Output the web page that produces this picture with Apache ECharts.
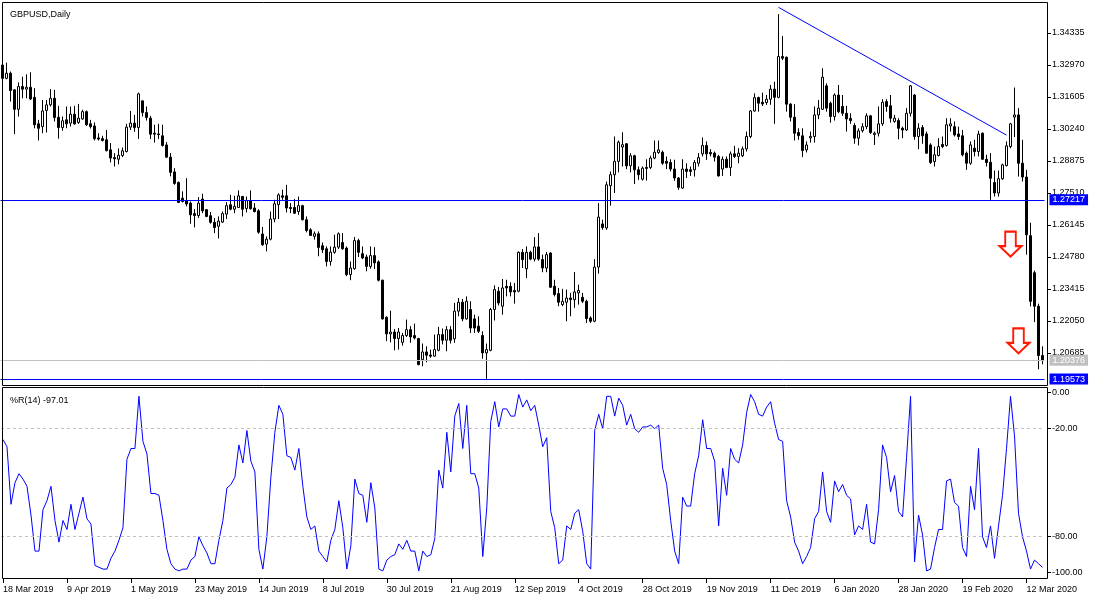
<!DOCTYPE html>
<html><head><meta charset="utf-8">
<script src="https://cdn.jsdelivr.net/npm/echarts@6/dist/echarts.min.js"></script>
<style>html,body{margin:0;padding:0;background:#fff}#c{width:1100px;height:600px}</style>
</head><body><div id="c"></div>
<script>
const chartTitle = 'GBPUSD,Daily';
const monthNames = ['Jan','Feb','Mar','Apr','May','Jun','Jul','Aug','Sep','Oct','Nov','Dec'];
const holidays = ['2019-12-25','2020-01-01'];
function tradingDays(start, end) {
  const out = [];
  let d = new Date(start + 'T00:00:00Z');
  const e = new Date(end + 'T00:00:00Z');
  while (d <= e) {
    const wd = d.getUTCDay();
    const iso = d.toISOString().slice(0, 10);
    if (wd !== 0 && wd !== 6 && holidays.indexOf(iso) < 0) {
      out.push(d.getUTCDate() + ' ' + monthNames[d.getUTCMonth()] + ' ' + d.getUTCFullYear());
    }
    d = new Date(d.getTime() + 86400000);
  }
  return out;
}
const categories = tradingDays('2019-03-18', '2020-03-18');

const opens = [1.3297,1.3240,1.3262,1.3191,1.3108,1.3205,1.3194,1.3202,1.3159,1.3046,
1.3034,1.3103,1.3127,1.3155,1.3074,1.3030,1.3063,1.3049,1.3087,1.3052,
1.3067,1.3098,1.3046,1.3037,1.2986,1.2983,1.2978,1.2935,1.2902,1.2895,
1.2911,1.2928,1.3032,1.3049,1.3030,1.3144,1.3094,1.3070,1.3006,1.3003,
1.2995,1.2956,1.2904,1.2841,1.2796,1.2729,1.2718,1.2708,1.2663,1.2655,
1.2725,1.2680,1.2654,1.2626,1.2609,1.2627,1.2661,1.2701,1.2682,1.2689,
1.2736,1.2685,1.2719,1.2687,1.2675,1.2576,1.2533,1.2554,1.2640,1.2701,
1.2739,1.2739,1.2689,1.2689,1.2672,1.2697,1.2637,1.2594,1.2566,1.2577,
1.2526,1.2513,1.2459,1.2498,1.2520,1.2540,1.2516,1.2403,1.2428,1.2548,
1.2492,1.2478,1.2438,1.2484,1.2457,1.2379,1.2221,1.2150,1.2158,1.2130,
1.2114,1.2143,1.2168,1.2143,1.2130,1.2040,1.2073,1.2060,1.2055,1.2080,
1.2147,1.2123,1.2168,1.2129,1.2247,1.2285,1.2214,1.2254,1.2214,1.2183,
1.2143,1.2069,1.2080,1.2254,1.2332,1.2268,1.2353,1.2353,1.2335,1.2332,
1.2498,1.2428,1.2498,1.2469,1.2521,1.2467,1.2431,1.2495,1.2353,1.2322,
1.2275,1.2285,1.2303,1.2296,1.2325,1.2306,1.2289,1.2218,1.2204,1.2435,
1.2619,1.2602,1.2782,1.2829,1.2886,1.2947,1.2961,1.2867,1.2910,1.2850,
1.2810,1.2860,1.2860,1.2900,1.2924,1.2925,1.2886,1.2881,1.2853,1.2815,
1.2772,1.2853,1.2850,1.2850,1.2878,1.2918,1.2954,1.2924,1.2921,1.2907,
1.2853,1.2895,1.2860,1.2918,1.2907,1.2910,1.2939,1.2992,1.3101,1.3158,
1.3138,1.3137,1.3151,1.3194,1.3159,1.3333,1.3330,1.3130,1.3074,1.3009,
1.2995,1.2935,1.2986,1.2992,1.3084,1.3108,1.3208,1.3134,1.3077,1.3169,
1.3120,1.3091,1.3069,1.3039,1.2985,1.3017,1.3034,1.3080,1.3000,1.3006,
1.3046,1.3141,1.3123,1.3056,1.3060,1.3027,1.3020,1.3091,1.3169,1.2992,
1.3030,1.3003,1.2956,1.2885,1.2911,1.2958,1.2954,1.3037,1.3034,1.3003,
1.2995,1.2921,1.2878,1.2942,1.2928,1.3006,1.2895,1.2882,1.2796,1.2751,
1.2812,1.2868,1.2949,1.3075,1.3084,1.2878,1.2819,1.2569,1.2411,1.2268,
1.2058];
const highs = [1.3308,1.3307,1.3269,1.3194,1.3223,1.3247,1.3257,1.3266,1.3198,1.3063,
1.3148,1.3148,1.3194,1.3191,1.3123,1.3077,1.3120,1.3120,1.3123,1.3131,
1.3106,1.3103,1.3063,1.3052,1.3006,1.2995,1.3020,1.2964,1.2921,1.2941,
1.2945,1.3046,1.3101,1.3084,1.3179,1.3145,1.3120,1.3080,1.3042,1.3046,
1.3042,1.2968,1.2921,1.2857,1.2800,1.2758,1.2814,1.2715,1.2682,1.2734,
1.2748,1.2682,1.2670,1.2644,1.2651,1.2672,1.2712,1.2743,1.2739,1.2762,
1.2739,1.2736,1.2762,1.2708,1.2682,1.2606,1.2566,1.2672,1.2722,1.2750,
1.2765,1.2786,1.2708,1.2725,1.2736,1.2701,1.2651,1.2601,1.2587,1.2587,
1.2540,1.2523,1.2523,1.2573,1.2583,1.2580,1.2523,1.2459,1.2563,1.2556,
1.2523,1.2488,1.2523,1.2520,1.2464,1.2381,1.2225,1.2249,1.2171,1.2175,
1.2154,1.2211,1.2183,1.2194,1.2133,1.2109,1.2097,1.2083,1.2147,1.2180,
1.2173,1.2183,1.2183,1.2282,1.2303,1.2299,1.2310,1.2289,1.2232,1.2225,
1.2161,1.2109,1.2261,1.2357,1.2350,1.2384,1.2381,1.2370,1.2367,1.2502,
1.2512,1.2523,1.2505,1.2563,1.2580,1.2488,1.2499,1.2498,1.2381,1.2346,
1.2342,1.2339,1.2325,1.2414,1.2360,1.2325,1.2296,1.2225,1.2469,1.2708,
1.2637,1.2800,1.2843,1.2992,1.2975,1.3010,1.2964,1.2921,1.2914,1.2864,
1.2864,1.2895,1.2910,1.2975,1.2975,1.2932,1.2907,1.2895,1.2893,1.2819,
1.2895,1.2878,1.2864,1.2892,1.2921,1.2988,1.2971,1.2938,1.2928,1.2914,
1.2907,1.2907,1.2928,1.2952,1.2942,1.2949,1.3013,1.3105,1.3176,1.3162,
1.3179,1.3169,1.3212,1.3226,1.3514,1.3421,1.3333,1.3134,1.3130,1.3027,
1.3027,1.2971,1.3013,1.3120,1.3148,1.3283,1.3219,1.3141,1.3176,1.3212,
1.3169,1.3123,1.3091,1.3049,1.3027,1.3049,1.3091,1.3084,1.3013,1.3120,
1.3151,1.3151,1.3169,1.3084,1.3070,1.3034,1.3113,1.3212,1.3173,1.3049,
1.3041,1.3013,1.2963,1.2949,1.2985,1.2992,1.3070,1.3070,1.3056,1.3034,
1.3020,1.2928,1.2971,1.2978,1.3017,1.3009,1.2914,1.2921,1.2847,1.2847,
1.2876,1.2971,1.3050,1.3201,1.3113,1.2978,1.2850,1.2624,1.2420,1.2279,
1.2097];
const lows = [1.3233,1.3236,1.3141,1.3002,1.3077,1.3155,1.3155,1.3148,1.3027,1.2975,
1.3006,1.3009,1.3120,1.3056,1.2983,1.3016,1.3027,1.3034,1.3042,1.3046,
1.3063,1.3037,1.3026,1.2975,1.2975,1.2971,1.2928,1.2881,1.2864,1.2873,
1.2904,1.2924,1.3020,1.3012,1.2982,1.3077,1.3060,1.2981,1.2966,1.2981,
1.2949,1.2901,1.2822,1.2786,1.2708,1.2711,1.2694,1.2620,1.2604,1.2644,
1.2665,1.2648,1.2620,1.2580,1.2557,1.2623,1.2640,1.2677,1.2665,1.2687,
1.2651,1.2668,1.2680,1.2668,1.2577,1.2526,1.2502,1.2549,1.2626,1.2640,
1.2722,1.2668,1.2665,1.2662,1.2658,1.2634,1.2583,1.2569,1.2552,1.2481,
1.2495,1.2438,1.2441,1.2492,1.2512,1.2509,1.2396,1.2379,1.2424,1.2478,
1.2469,1.2417,1.2428,1.2427,1.2374,1.2211,1.2119,1.2114,1.2080,1.2083,
1.2100,1.2137,1.2112,1.2126,1.2016,1.2012,1.2029,1.2048,1.2052,1.2076,
1.2105,1.2076,1.2109,1.2112,1.2225,1.2204,1.2211,1.2154,1.2154,1.2154,
1.2044,1.1958,1.2076,1.2207,1.2271,1.2232,1.2310,1.2310,1.2279,1.2327,
1.2431,1.2388,1.2464,1.2459,1.2462,1.2413,1.2413,1.2346,1.2310,1.2268,
1.2268,1.2204,1.2225,1.2261,1.2275,1.2282,1.2197,1.2197,1.2200,1.2407,
1.2594,1.2594,1.2697,1.2751,1.2839,1.2864,1.2853,1.2839,1.2789,1.2807,
1.2804,1.2804,1.2853,1.2895,1.2918,1.2871,1.2853,1.2843,1.2803,1.2765,
1.2768,1.2815,1.2824,1.2821,1.2864,1.2907,1.2892,1.2907,1.2885,1.2821,
1.2824,1.2857,1.2824,1.2900,1.2878,1.2904,1.2928,1.2985,1.3098,1.3098,
1.3122,1.3127,1.3127,1.3046,1.3155,1.3318,1.3098,1.3056,1.2975,1.2978,
1.2904,1.2924,1.2966,1.2966,1.3066,1.3105,1.3098,1.3051,1.3060,1.3091,
1.3080,1.3013,1.3046,1.2961,1.2954,1.3009,1.3023,1.3003,1.2956,1.2992,
1.3037,1.3098,1.3051,1.3051,1.2980,1.2985,1.3016,1.3077,1.2978,1.2938,
1.2961,1.2918,1.2875,1.2864,1.2907,1.2942,1.2949,1.3013,1.2992,1.2978,
1.2907,1.2850,1.2871,1.2907,1.2907,1.2892,1.2864,1.2722,1.2736,1.2736,
1.2807,1.2864,1.2942,1.2990,1.2821,1.2800,1.2488,1.2267,1.2200,1.1999,
1.2020];
const closes = [1.3240,1.3262,1.3188,1.3108,1.3205,1.3194,1.3202,1.3152,1.3042,1.3027,
1.3101,1.3127,1.3155,1.3073,1.3030,1.3059,1.3046,1.3087,1.3046,1.3070,
1.3098,1.3042,1.3034,1.2983,1.2981,1.2975,1.2932,1.2900,1.2897,1.2912,
1.2931,1.3032,1.3049,1.3030,1.3174,1.3094,1.3073,1.3002,1.3002,1.3000,
1.2954,1.2904,1.2839,1.2792,1.2711,1.2715,1.2704,1.2658,1.2655,1.2708,
1.2675,1.2651,1.2626,1.2604,1.2631,1.2663,1.2697,1.2682,1.2694,1.2739,
1.2682,1.2719,1.2684,1.2672,1.2584,1.2530,1.2554,1.2640,1.2705,1.2743,
1.2733,1.2687,1.2685,1.2665,1.2697,1.2637,1.2591,1.2570,1.2577,1.2519,
1.2509,1.2459,1.2499,1.2520,1.2577,1.2513,1.2403,1.2431,1.2548,1.2498,
1.2474,1.2438,1.2484,1.2453,1.2379,1.2214,1.2150,1.2158,1.2130,1.2158,
1.2143,1.2168,1.2137,1.2133,1.2019,1.2073,1.2059,1.2055,1.2083,1.2147,
1.2123,1.2168,1.2123,1.2247,1.2285,1.2214,1.2289,1.2175,1.2175,1.2161,
1.2069,1.2083,1.2254,1.2339,1.2282,1.2346,1.2346,1.2329,1.2329,1.2498,
1.2467,1.2498,1.2469,1.2521,1.2469,1.2431,1.2488,1.2349,1.2318,1.2285,
1.2289,1.2303,1.2296,1.2329,1.2335,1.2289,1.2215,1.2204,1.2435,1.2648,
1.2604,1.2786,1.2829,1.2886,1.2968,1.2957,1.2867,1.2910,1.2850,1.2829,
1.2857,1.2856,1.2900,1.2925,1.2935,1.2878,1.2878,1.2853,1.2815,1.2775,
1.2853,1.2843,1.2843,1.2881,1.2902,1.2954,1.2918,1.2918,1.2904,1.2824,
1.2895,1.2860,1.2918,1.2907,1.2921,1.2939,1.2992,1.3101,1.3158,1.3134,
1.3131,1.3151,1.3194,1.3159,1.3333,1.3326,1.3130,1.3074,1.3006,1.2996,
1.2932,1.2956,1.2992,1.3084,1.3113,1.3245,1.3113,1.3077,1.3169,1.3098,
1.3091,1.3067,1.3060,1.2985,1.3016,1.3034,1.3080,1.3009,1.3006,1.3046,
1.3138,1.3120,1.3070,1.3070,1.3027,1.3020,1.3091,1.3208,1.2992,1.3027,
1.2995,1.2921,1.2881,1.2914,1.2949,1.2949,1.3042,1.3046,1.2999,1.2992,
1.2914,1.2878,1.2956,1.2928,1.3002,1.2895,1.2881,1.2814,1.2751,1.2812,
1.2871,1.2952,1.3046,1.3084,1.2878,1.2819,1.2573,1.2289,1.2268,1.2058,
1.2038];
const wpr = [-26,-30,-62,-50,-45,-48,-52,-68,-88,-88,
-65,-60,-52,-71,-83,-71,-76,-62,-76,-67,
-58,-70,-73,-96,-97,-98,-98,-92,-88,-82,
-75,-37,-31,-31,-2,-27,-34,-56,-56,-57,
-71,-87,-95,-98,-99,-98,-98,-93,-91,-80,
-85,-89,-95,-95,-82,-71,-53,-51,-47,-29,
-39,-21,-38,-44,-87,-98,-80,-47,-22,-7,
-12,-35,-36,-43,-31,-52,-69,-76,-74,-88,
-91,-94,-82,-76,-60,-75,-98,-85,-48,-56,
-57,-72,-50,-64,-98,-99,-93,-91,-90,-84,
-87,-82,-88,-88,-99,-88,-91,-90,-81,-43,
-53,-22,-44,-13,-6,-31,-7,-45,-45,-53,
-91,-64,-16,-5,-19,-9,-9,-13,-13,-1,
-8,-4,-10,-7,-18,-30,-25,-66,-75,-95,
-93,-74,-76,-67,-65,-77,-95,-98,-21,-12,
-20,-2,-2,-13,-3,-7,-18,-12,-20,-22,
-19,-19,-18,-20,-18,-42,-51,-71,-88,-95,
-58,-63,-63,-45,-35,-15,-31,-31,-38,-74,
-42,-57,-31,-37,-39,-29,-11,-1,-5,-12,
-13,-8,-5,-17,-26,-27,-60,-69,-83,-88,
-95,-91,-86,-70,-66,-44,-66,-72,-49,-55,
-51,-57,-59,-79,-74,-76,-62,-83,-84,-65,
-29,-36,-55,-46,-66,-69,-36,-2,-94,-68,
-79,-99,-98,-86,-76,-76,-49,-48,-61,-63,
-86,-91,-52,-65,-31,-80,-86,-74,-92,-74,
-57,-31,-2,-24,-67,-80,-88,-98,-93,-95,
-97.01];

const priceTicks = [1.20685,1.22050,1.23415,1.24780,1.26145,1.27510,1.28875,1.30240,1.31605,1.32970,1.34335];
const wprTicks = [0,-20,-80,-100];
const wprLevels = [-20,-80];
const blueLevels = [1.27217, 1.19573];
const bidPrice = 1.20376;
const trendLine = [[194, 1.3543],[251, 1.2998]];
const downArrows = [[252, 1.2533],[254, 1.2120]];

const FONT = 'Liberation Sans';
const BLUE = '#0000ff';
const GREY = '#c0c0c0';
const candleData = categories.map((_, i) => [opens[i], closes[i], lows[i], highs[i]]);
const showEvery16 = (i) => i % 16 === 0;

function priceLabel(bg) {
  return {show:true, position:'end', distance:5, formatter:(p) => Number(p.value).toFixed(5),
    color:'#fff', backgroundColor:bg, padding:[1,3,0,3], fontSize:9, fontFamily:FONT, lineHeight:10};
}

const chart = echarts.init(document.getElementById('c'), null, {renderer:'canvas'});
chart.setOption({
  animation:false,
  backgroundColor:'#fff',
  textStyle:{fontFamily:FONT, fontSize:9, color:'#000'},
  title:[
    {text:chartTitle, left:5, top:5, textStyle:{fontSize:9, fontWeight:'normal', color:'#000', fontFamily:FONT}},
    {text:'%R(14) ' + wpr[wpr.length-1].toFixed(2), left:5, top:391, textStyle:{fontSize:9, fontWeight:'normal', color:'#000', fontFamily:FONT}}
  ],
  grid:[
    {left:0.5, width:1044, top:1, height:384, show:false},
    {left:0.5, width:1044, top:387, height:191, show:false}
  ],
  xAxis:[
    {type:'category', gridIndex:0, data:categories, boundaryGap:true, show:false,
      axisLine:{show:false, onZero:false}, axisTick:{show:false}, axisLabel:{show:false}, splitLine:{show:false}},
    {type:'category', gridIndex:1, data:categories, boundaryGap:true, position:'bottom',
      axisLine:{show:false, onZero:false},
      axisTick:{show:true, alignWithLabel:true, interval:showEvery16, length:5, lineStyle:{color:'#000'}},
      axisLabel:{interval:showEvery16, align:'left', margin:7, color:'#000', fontSize:9, fontFamily:FONT},
      splitLine:{show:false}}
  ],
  yAxis:[
    {type:'value', gridIndex:0, position:'right', offset:2.5, min:1.1932, max:1.357,
      splitLine:{show:false}, axisLine:{show:false, onZero:false},
      axisTick:{show:true, customValues:priceTicks, length:4, lineStyle:{color:'#000'}},
      axisLabel:{customValues:priceTicks, formatter:(v) => v.toFixed(5), margin:5, color:'#000', fontSize:9, fontFamily:FONT}},
    {type:'value', gridIndex:1, position:'right', offset:2.5, min:-102.94, max:3.17,
      splitLine:{show:false}, axisLine:{show:false, onZero:false},
      axisTick:{show:true, customValues:wprTicks, length:4, lineStyle:{color:'#000'}},
      axisLabel:{customValues:wprTicks, formatter:(v) => v.toFixed(2), margin:5, color:'#000', fontSize:9, fontFamily:FONT}}
  ],
  graphic:[
    {type:'rect', z:100, silent:true, shape:{x:2.5, y:2.5, width:1045, height:383}, style:{fill:'none', stroke:'#000', lineWidth:1}},
    {type:'rect', z:100, silent:true, shape:{x:2.5, y:387.5, width:1045, height:191}, style:{fill:'none', stroke:'#000', lineWidth:1}}
  ],
  series:[
    {type:'candlestick', name:'GBPUSD', xAxisIndex:0, yAxisIndex:0, data:candleData, barWidth:2,
      itemStyle:{color:'#ffffff', color0:'#000000', borderColor:'#000000', borderColor0:'#000000', borderWidth:1},
      markLine:{silent:true, symbol:'none', animation:false, precision:5,
        lineStyle:{color:BLUE, width:1, type:'solid'},
        data:[
          {yAxis:blueLevels[0], lineStyle:{color:BLUE, width:1, type:'solid'}, label:priceLabel(BLUE)},
          {yAxis:bidPrice, lineStyle:{color:GREY, width:1, type:'solid'}, label:priceLabel(GREY)},
          {yAxis:blueLevels[1], lineStyle:{color:BLUE, width:1, type:'solid'}, label:priceLabel(BLUE)},
          [{coord:[categories[trendLine[0][0]], trendLine[0][1]], lineStyle:{color:BLUE, width:1, type:'solid'}, label:{show:false}},
           {coord:[categories[trendLine[1][0]], trendLine[1][1]]}]
        ]},
      markPoint:{silent:true, symbol:'path://M26,0L74,0L74,58L100,58L50,100L0,58L26,58Z', symbolSize:[22,25],
        symbolKeepAspect:false,
        itemStyle:{color:'#ffffff', borderColor:'#ff1a00', borderWidth:2},
        label:{show:false},
        data:downArrows.map((a) => ({coord:[categories[a[0]], a[1]]}))}
    },
    {type:'line', name:'%R(14)', xAxisIndex:1, yAxisIndex:1, data:wpr, symbol:'none', showSymbol:false,
      lineStyle:{color:BLUE, width:1}, itemStyle:{color:BLUE},
      markLine:{silent:true, symbol:'none', label:{show:false}, precision:2,
        lineStyle:{color:GREY, type:[3,3], width:1},
        data:wprLevels.map((v) => ({yAxis:v}))}}
  ]
});
</script></body></html>
